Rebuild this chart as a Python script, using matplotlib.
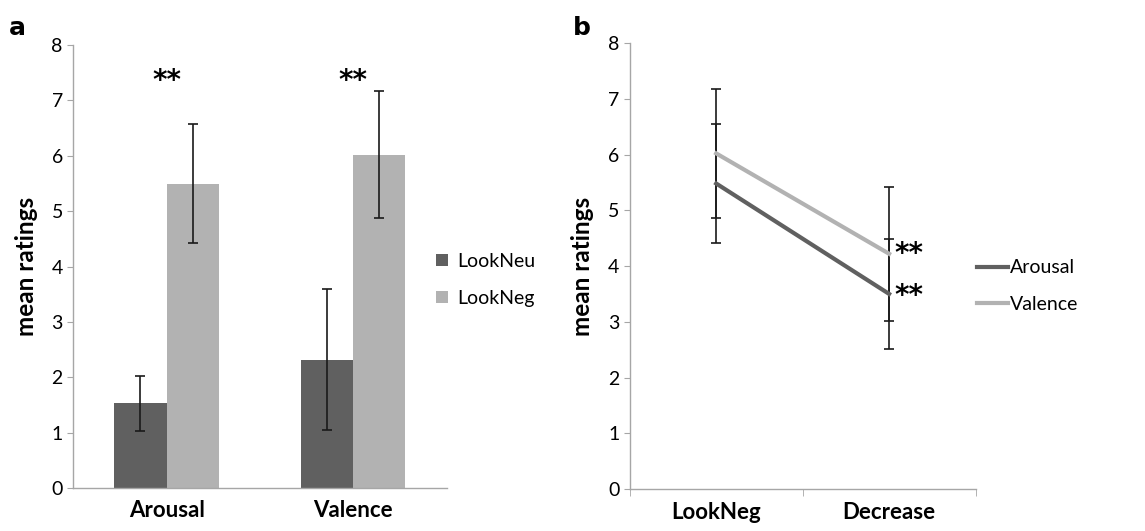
import matplotlib.pyplot as plt
from matplotlib.lines import Line2D
import numpy as np

plt.rcParams['font.family'] = ['Lato', 'DejaVu Sans']

# panel a: bar chart
measures = ['Arousal', 'Valence']
look_neu = [1.53, 2.32]
look_neu_err = [0.50, 1.28]
look_neg = [5.50, 6.02]
look_neg_err = [1.07, 1.15]

# panel b: line chart
conditions = ['LookNeg', 'Decrease']
arousal = [5.48, 3.50]
arousal_err = [1.07, 0.98]
valence = [6.02, 4.22]
valence_err = [1.15, 1.20]

dark = '#606060'
light = '#b2b2b2'
axis_col = '#a6a6a6'

fig = plt.figure(figsize=(11.45, 5.31), dpi=100)
ax1 = fig.add_axes([0.064, 0.081, 0.326, 0.834])
ax2 = fig.add_axes([0.550, 0.079, 0.302, 0.840])


def style_axes(ax):
    for s in ['top', 'right']:
        ax.spines[s].set_visible(False)
    for s in ['left', 'bottom']:
        ax.spines[s].set_color(axis_col)
        ax.spines[s].set_linewidth(1.0)
    ax.set_ylim(0, 8)
    ax.set_yticks(range(0, 9))
    ax.tick_params(axis='y', colors=axis_col, labelcolor='black', labelsize=14, length=4)
    ax.set_ylabel('mean ratings', fontsize=17.5, fontweight='bold', labelpad=10)
    ax.set_xlim(-0.5, 1.5)


def stars(ax, x, y, ha):
    ax.text(x, y, '**', ha=ha, va='center', fontsize=20, fontweight='bold',
            family='DejaVu Sans')


# ---- panel a
x = np.arange(len(measures))
w = 0.28
ekw = dict(ecolor='#1a1a1a', elinewidth=1.2, capsize=3.5, capthick=1.2)
ax1.bar(x - w / 2, look_neu, w, color=dark, label='LookNeu',
        yerr=look_neu_err, error_kw=ekw)
ax1.bar(x + w / 2, look_neg, w, color=light, label='LookNeg',
        yerr=look_neg_err, error_kw=ekw)
style_axes(ax1)
ax1.set_xticks(x)
ax1.set_xticklabels(measures, fontsize=16, fontweight='bold')
ax1.tick_params(axis='x', length=0, pad=9)
for xi in x:
    stars(ax1, xi, 7.35, 'center')
fig.legend(*ax1.get_legend_handles_labels(), loc='center left',
           bbox_to_anchor=(0.381, 0.473), frameon=False, fontsize=14,
           handlelength=0.6, handleheight=0.6, handletextpad=0.5,
           labelspacing=1.0, borderaxespad=0, borderpad=0)
fig.text(0.008, 0.935, 'a', fontsize=18, fontweight='bold', family='DejaVu Sans')

# ---- panel b
xb = np.arange(len(conditions))
ax2.errorbar(xb, arousal, yerr=arousal_err, color=dark, lw=3,
             ecolor='#1a1a1a', elinewidth=1.2, capsize=3.5, capthick=1.2)
ax2.errorbar(xb, valence, yerr=valence_err, color=light, lw=3,
             ecolor='#1a1a1a', elinewidth=1.2, capsize=3.5, capthick=1.2)
style_axes(ax2)
ax2.set_xticks(xb)
ax2.set_xticklabels(conditions, fontsize=16, fontweight='bold')
ax2.set_xticks([-0.5, 0.5, 1.5], minor=True)
ax2.tick_params(axis='x', which='major', length=0, pad=9)
ax2.tick_params(axis='x', which='minor', length=5, color=axis_col)
stars(ax2, xb[1] + 0.03, valence[1] + 0.0, 'left')
stars(ax2, xb[1] + 0.03, arousal[1] - 0.03, 'left')
handles = [Line2D([], [], color=dark, lw=3), Line2D([], [], color=light, lw=3)]
fig.legend(handles, ['Arousal', 'Valence'], loc='center left',
           bbox_to_anchor=(0.853, 0.461), frameon=False, fontsize=14,
           handlelength=1.6, handletextpad=0.1, labelspacing=1.0,
           borderaxespad=0, borderpad=0)
fig.text(0.500, 0.935, 'b', fontsize=18, fontweight='bold', family='DejaVu Sans')

fig.savefig('out.png', dpi=100)
